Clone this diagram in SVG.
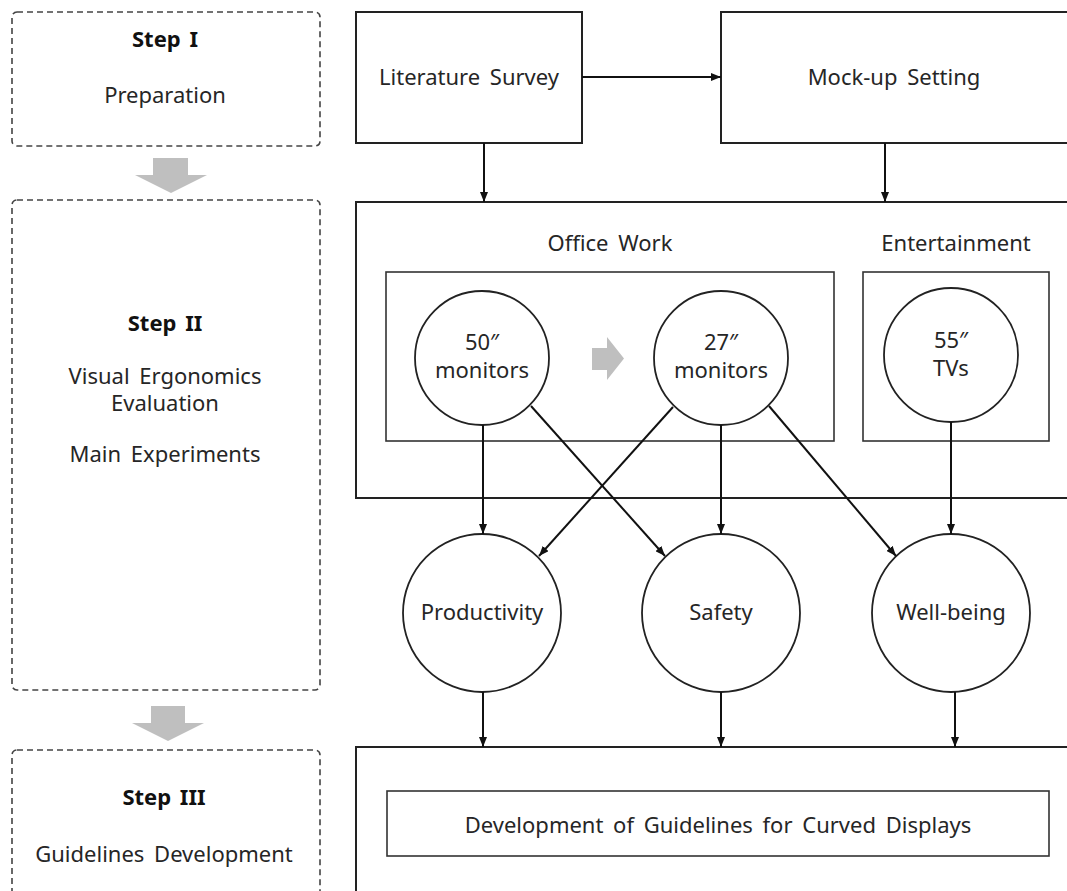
<svg xmlns="http://www.w3.org/2000/svg" width="1067" height="891" viewBox="0 0 1067 891">
  <style>
    .t { font-family: "Noto Sans", "Liberation Sans", sans-serif; font-size: 22px; fill: #262626; text-anchor: middle; word-spacing: 4px; }
    .b { font-weight: bold; word-spacing: 3px; fill: #111; }
    .step { fill: none; stroke: #444; stroke-width: 1.6; stroke-dasharray: 6 4; }
    .box { fill: #fff; stroke: #222; stroke-width: 2; }
    .inner { fill: none; stroke: #333; stroke-width: 1.6; }
    .node { fill: #fff; stroke: #222; stroke-width: 1.8; }
    .link { fill: none; stroke: #111; stroke-width: 2; marker-end: url(#ah); }
    .big { fill: #bfbfbf; stroke: none; }
  </style>
  <defs>
    <marker id="ah" viewBox="0 0 10 8" refX="10" refY="4" markerWidth="10" markerHeight="8" orient="auto" markerUnits="userSpaceOnUse">
      <path d="M0,0 L10,4 L0,8 z" fill="#111"/>
    </marker>
  </defs>

  <rect width="1067" height="891" fill="#fff"/>

  <!-- left column: process steps -->
  <g id="step1">
    <rect class="step" x="12" y="12" width="308" height="134" rx="5"/>
    <text class="t b" x="165" y="47">Step I</text>
    <text class="t" x="165" y="103">Preparation</text>
  </g>
  <g id="step-arrow1">
    <path class="big" d="M153,158 H188 V175 H207 L171,193 L135,175 H153 Z"/>
  </g>
  <g id="step2">
    <rect class="step" x="12" y="200" width="308" height="490" rx="5"/>
    <text class="t b" x="165" y="331">Step II</text>
    <text class="t" x="165" y="384">Visual Ergonomics</text>
    <text class="t" x="165" y="411">Evaluation</text>
    <text class="t" x="165" y="462">Main Experiments</text>
  </g>
  <g id="step-arrow2">
    <path class="big" d="M151,706 H185 V723 H204 L168,741 L132,723 H151 Z"/>
  </g>
  <g id="step3">
    <rect class="step" x="12" y="750" width="308" height="170" rx="5"/>
    <text class="t b" x="164" y="805">Step III</text>
    <text class="t" x="164" y="862">Guidelines Development</text>
  </g>

  <!-- step I content -->
  <g id="literature">
    <rect class="box" x="356" y="12" width="226" height="131"/>
    <text class="t" x="469" y="85">Literature Survey</text>
  </g>
  <g id="mockup">
    <rect class="box" x="721" y="12" width="370" height="131"/>
    <text class="t" x="894" y="85">Mock-up Setting</text>
  </g>

  <!-- step II content -->
  <g id="experiments">
    <rect class="box" x="356" y="202" width="740" height="296"/>
    <text class="t" x="610" y="251">Office Work</text>
    <text class="t" x="956" y="251">Entertainment</text>
  </g>
  <g id="office">
    <rect class="inner" x="386" y="272" width="448" height="169"/>
  </g>
  <g id="entertainment">
    <rect class="inner" x="863" y="272" width="186" height="169"/>
  </g>
  <g id="mon50">
    <circle class="node" cx="482" cy="358" r="67"/>
    <text class="t" x="482" y="350">50″</text>
    <text class="t" x="482" y="378">monitors</text>
  </g>
  <g id="order-arrow">
    <path class="big" d="M592,348 H607 V337 L624,358.5 L607,380 V370 H592 Z"/>
  </g>
  <g id="mon27">
    <circle class="node" cx="721" cy="358" r="67"/>
    <text class="t" x="721" y="350">27″</text>
    <text class="t" x="721" y="378">monitors</text>
  </g>
  <g id="tv55">
    <circle class="node" cx="951" cy="355" r="67"/>
    <text class="t" x="951" y="348">55″</text>
    <text class="t" x="951" y="376">TVs</text>
  </g>
  <g id="productivity">
    <circle class="node" cx="482" cy="613" r="79"/>
    <text class="t" x="482" y="620">Productivity</text>
  </g>
  <g id="safety">
    <circle class="node" cx="721" cy="613" r="79"/>
    <text class="t" x="721" y="620">Safety</text>
  </g>
  <g id="wellbeing">
    <circle class="node" cx="951" cy="613" r="79"/>
    <text class="t" x="951" y="620">Well-being</text>
  </g>

  <!-- step III content -->
  <g id="guidelines">
    <rect class="box" x="356" y="747" width="740" height="200"/>
    <rect class="inner" x="387" y="791" width="662" height="65"/>
    <text class="t" x="718" y="833">Development of Guidelines for Curved Displays</text>
  </g>

  <!-- connectors -->
  <g id="connectors">
    <line class="link" x1="582" y1="77" x2="721" y2="77"/>
    <line class="link" x1="484" y1="143" x2="484" y2="202"/>
    <line class="link" x1="885" y1="143" x2="885" y2="202"/>
    <line class="link" x1="483" y1="425" x2="483" y2="534"/>
    <line class="link" x1="531" y1="406" x2="665" y2="556"/>
    <line class="link" x1="673" y1="407" x2="539" y2="556"/>
    <line class="link" x1="721" y1="425" x2="721" y2="534"/>
    <line class="link" x1="769" y1="406" x2="896" y2="556"/>
    <line class="link" x1="951" y1="422" x2="951" y2="534"/>
    <line class="link" x1="483" y1="692" x2="483" y2="747"/>
    <line class="link" x1="721" y1="692" x2="721" y2="747"/>
    <line class="link" x1="955" y1="692" x2="955" y2="747"/>
  </g>
</svg>
